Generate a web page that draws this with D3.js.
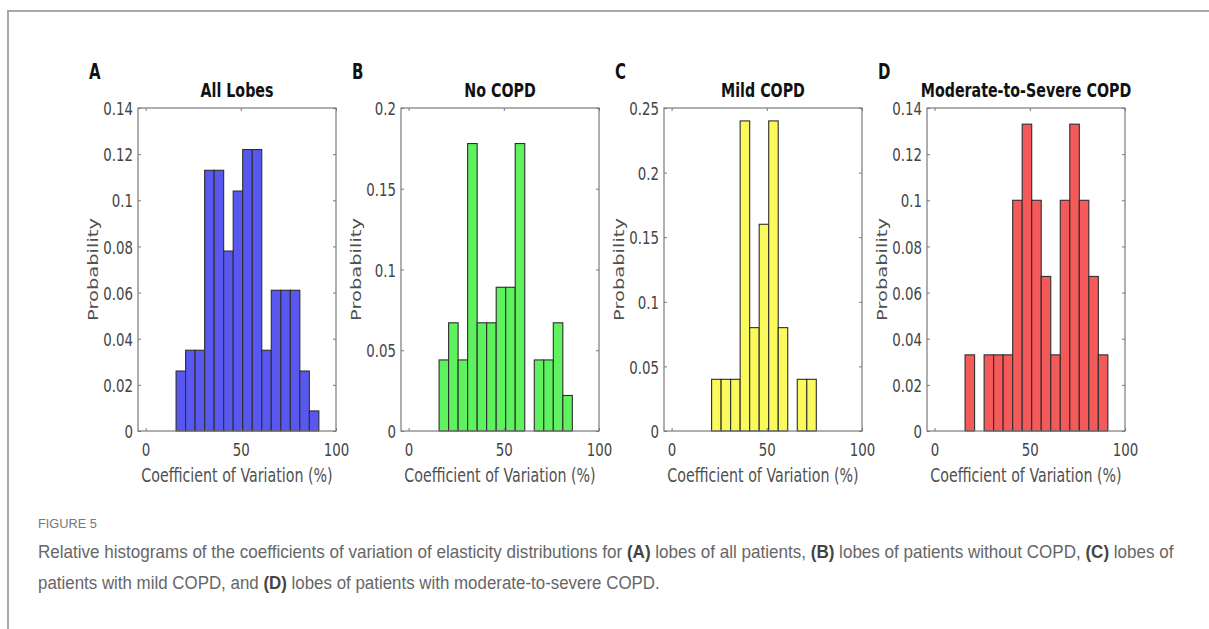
<!DOCTYPE html>
<html><head><meta charset="utf-8">
<script src="https://cdn.jsdelivr.net/npm/d3@7"></script>
<style>
html,body{margin:0;padding:0;background:#fff;}
svg{display:block;}
</style>
</head><body>
<svg id="chart" width="1209" height="629"></svg>
<script>
// ---- data ----
const panelLetters = ["A", "B", "C", "D"];
const panelTitles = ["All Lobes", "No COPD", "Mild COPD", "Moderate-to-Severe COPD"];
const binWidth = 5;
const binStarts = [16, 16, 21, 16];
const allLobes = [0.026, 0.035, 0.035, 0.113, 0.113, 0.078, 0.104, 0.122, 0.122, 0.035, 0.061, 0.061, 0.061, 0.026, 0.0087];
const noCopd = [0.044, 0.067, 0.044, 0.178, 0.067, 0.067, 0.089, 0.089, 0.178, 0, 0.044, 0.044, 0.067, 0.022];
const mildCopd = [0.04, 0.04, 0.04, 0.24, 0.08, 0.16, 0.24, 0.08, 0, 0.04, 0.04];
const severeCopd = [0.033, 0, 0.033, 0.033, 0.033, 0.1, 0.133, 0.1, 0.067, 0.033, 0.1, 0.133, 0.1, 0.067, 0.033];
const yMax = [0.14, 0.2, 0.25, 0.14];
const yTicksA = [0, 0.02, 0.04, 0.06, 0.08, 0.1, 0.12, 0.14];
const yTicksB = [0, 0.05, 0.1, 0.15, 0.2];
const yTicksC = [0, 0.05, 0.1, 0.15, 0.2, 0.25];
const yTicksD = [0, 0.02, 0.04, 0.06, 0.08, 0.1, 0.12, 0.14];
const xTicks = [0, 50, 100];
const xDomain = [-4, 100];
const xLabel = "Coefficient of Variation (%)";
const yLabel = "Probability";
const colors = ["#5858f0", "#5ef25e", "#fafa5c", "#f45a5a"];
const figureLabel = "FIGURE 5";
const captionLine1 = [["Relative histograms of the coefficients of variation of elasticity distributions for ", false], ["(A)", true], [" lobes of all patients, ", false], ["(B)", true], [" lobes of patients without COPD, ", false], ["(C)", true], [" lobes of", false]];
const captionLine2 = [["patients with mild COPD, and ", false], ["(D)", true], [" lobes of patients with moderate-to-severe COPD.", false]];

const series = [allLobes, noCopd, mildCopd, severeCopd];
const yTicks = [yTicksA, yTicksB, yTicksC, yTicksD];

// ---- layout ----
const svg = d3.select("#chart");
const SX = 0.73;
const FONT = "'DejaVu Sans', sans-serif";
const boxLefts = [138, 401, 664, 927];
const boxW = 198, boxTop = 108, boxBottom = 431;

// frame
svg.append("line").attr("x1", 7).attr("x2", 1209).attr("y1", 11).attr("y2", 11)
  .attr("stroke", "#a8a8a8").attr("stroke-width", 2);
svg.append("line").attr("x1", 8).attr("x2", 8).attr("y1", 11).attr("y2", 629)
  .attr("stroke", "#a8a8a8").attr("stroke-width", 2);

function sqText(g, x, y, str, opts) {
  return g.append("text")
    .attr("transform", `translate(${x},${y}) scale(${opts.sx || SX},1)`)
    .attr("text-anchor", opts.anchor || "start")
    .attr("font-family", opts.family || FONT)
    .attr("font-size", opts.size)
    .attr("font-weight", opts.weight || "normal")
    .attr("fill", opts.fill || "#333")
    .text(str);
}

series.forEach((vals, i) => {
  const left = boxLefts[i];
  const x = d3.scaleLinear().domain(xDomain).range([left, left + boxW]);
  const y = d3.scaleLinear().domain([0, yMax[i]]).range([boxBottom, boxTop]);
  const g = svg.append("g");

  // bars
  const bins = vals.map((v, k) => ({x0: binStarts[i] + k * binWidth, x1: binStarts[i] + (k + 1) * binWidth, v}));
  g.selectAll("rect.bar").data(bins.filter(d => d.v > 0)).join("rect")
    .attr("class", "bar")
    .attr("x", d => x(d.x0)).attr("width", d => x(d.x1) - x(d.x0))
    .attr("y", d => y(d.v)).attr("height", d => y(0) - y(d.v))
    .attr("fill", colors[i]).attr("stroke", "#2e2e2e").attr("stroke-width", 1.1);

  // axes with inward ticks
  const axL = g.append("g").attr("transform", `translate(${left},0)`)
    .call(d3.axisLeft(y).tickValues(yTicks[i]).tickFormat(d3.format("~g")).tickSize(-3).tickPadding(5));
  const axR = g.append("g").attr("transform", `translate(${left + boxW},0)`)
    .call(d3.axisRight(y).tickValues(yTicks[i]).tickFormat("").tickSize(-3));
  const axB = g.append("g").attr("transform", `translate(0,${boxBottom})`)
    .call(d3.axisBottom(x).tickValues(xTicks).tickSize(-3).tickPadding(8));
  const axT = g.append("g").attr("transform", `translate(0,${boxTop})`)
    .call(d3.axisTop(x).tickValues(xTicks).tickFormat("").tickSize(-3));
  [axL, axR, axB, axT].forEach(a => {
    a.select(".domain").remove();
    a.selectAll(".tick line").attr("stroke", "#777").attr("stroke-width", 1);
  });
  axL.selectAll(".tick text")
    .attr("x", null).attr("dy", "0.36em")
    .attr("transform", `translate(-5,0) scale(${SX},1)`)
    .attr("font-family", FONT).attr("font-size", 18.3).attr("fill", "#444");
  axB.selectAll(".tick text")
    .attr("y", null).attr("dy", null)
    .attr("transform", `translate(0,25) scale(${SX},1)`)
    .attr("font-family", FONT).attr("font-size", 18.3).attr("fill", "#444");

  // box
  g.append("rect").attr("x", left).attr("y", boxTop).attr("width", boxW).attr("height", boxBottom - boxTop)
    .attr("fill", "none").attr("stroke", "#7a7a7a").attr("stroke-width", 1.2);

  // labels
  sqText(g, left + boxW / 2, 482, xLabel, {size: 19.5, anchor: "middle", fill: "#505050"});
  g.append("text")
    .attr("transform", `translate(${left - 40},${(boxTop + boxBottom) / 2}) rotate(-90) scale(1,${SX})`)
    .attr("text-anchor", "middle").attr("font-family", FONT).attr("font-size", 19.5).attr("fill", "#505050")
    .text(yLabel);
  sqText(g, left + boxW / 2, 97, panelTitles[i], {size: 19.5, anchor: "middle", weight: "bold", fill: "#111"});
  sqText(g, left - 49, 79, panelLetters[i], {size: 20.5, weight: "bold", fill: "#111"});
});

// caption
function fitText(x, y, parts, targetW, size, color, boldColor, family) {
  const t = svg.append("text").attr("font-family", family).attr("font-size", size).attr("fill", color);
  parts.forEach(([s, b]) => {
    t.append("tspan").attr("font-weight", b ? "bold" : "normal").attr("fill", b ? boldColor : color).text(s);
  });
  const w = t.node().getBBox().width;
  t.attr("transform", `translate(${x},${y}) scale(${targetW / w},1)`);
}
const CAPF = "'Liberation Sans', Arial, sans-serif";
fitText(38, 528, [[figureLabel, false]], 59, 13.5, "#777", "#777", CAPF);
fitText(38, 558, captionLine1, 1138, 18, "#666", "#444", CAPF);
fitText(38, 589, captionLine2, 622, 18, "#666", "#444", CAPF);
</script>
</body></html>
